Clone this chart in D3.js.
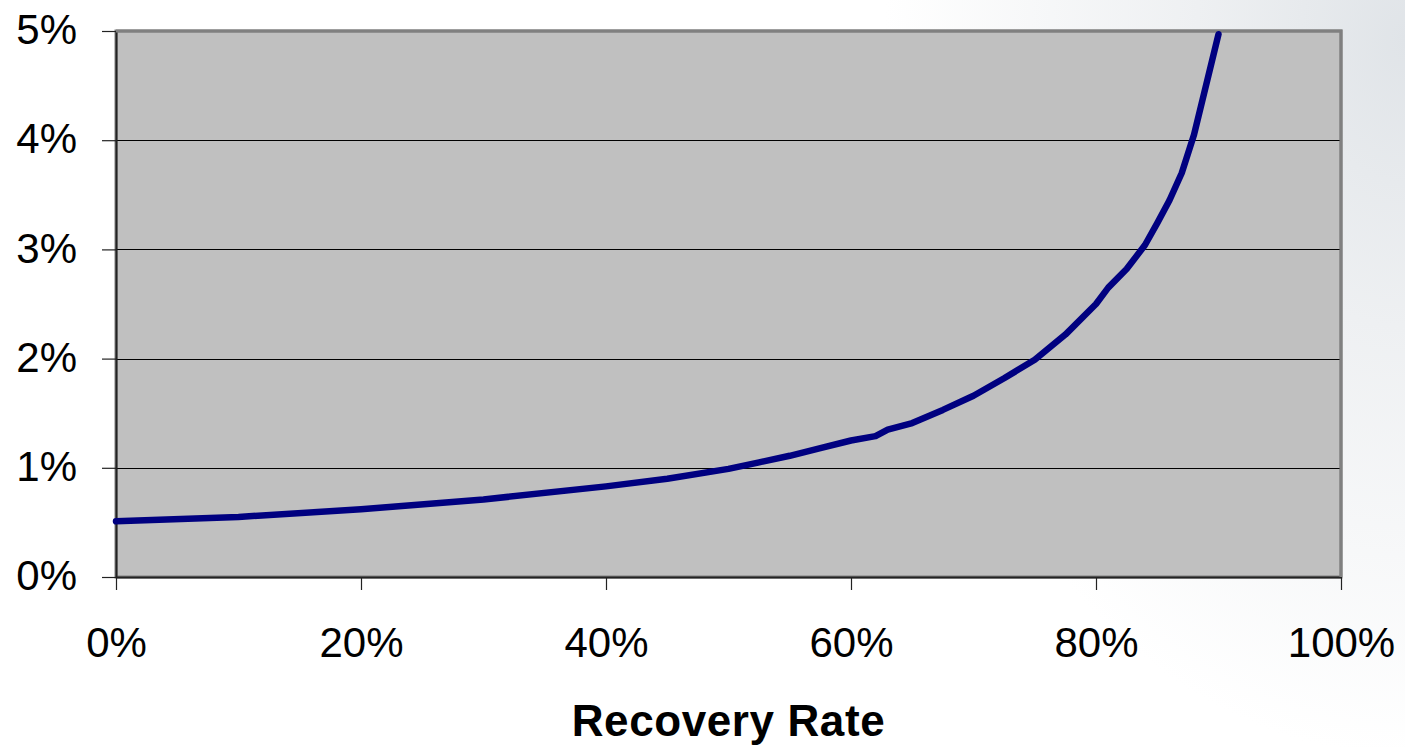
<!DOCTYPE html>
<html>
<head>
<meta charset="utf-8">
<script src="https://cdn.jsdelivr.net/npm/d3@7/dist/d3.min.js"></script>
<style>
  html, body { margin: 0; padding: 0; background: #fff; }
  svg { display: block; }
  text { font-family: "Liberation Sans", Arial, sans-serif; fill: #000; }
</style>
</head>
<body>
<svg id="chart" width="1405" height="747"></svg>
<script>
// Recovery rate (%) on the x axis, spread (%) on the y axis
const recoveryRate = [0, 10, 20, 30, 40, 45, 50, 52.5, 55, 57.5, 60, 62, 63, 65, 67.5, 70,
                      72.5, 75, 77.5, 80, 81, 82.5, 84, 85, 86, 87, 88, 90];
const spread = [0.51, 0.55, 0.62, 0.71, 0.83, 0.90, 0.99, 1.05, 1.11, 1.18, 1.25, 1.29, 1.35,
                1.41, 1.53, 1.66, 1.82, 1.99, 2.22, 2.50, 2.65, 2.82, 3.04, 3.24, 3.45, 3.70,
                4.05, 4.97];
const xTicks = [0, 20, 40, 60, 80, 100];
const yTicks = [0, 1, 2, 3, 4, 5];
const xTitle = "Recovery Rate";

const svg = d3.select("#chart");
const W = 1405, H = 747;
const plot = { left: 116, right: 1341, top: 31, bottom: 577 };

// soft backdrop shading toward the upper right
const defs = svg.append("defs");
const grad = defs.append("radialGradient")
  .attr("id", "bgShade")
  .attr("gradientUnits", "userSpaceOnUse")
  .attr("cx", 1405).attr("cy", 40).attr("r", 650)
  .attr("gradientTransform", "translate(1405,40) scale(0.8,1.1) translate(-1405,-40)");
grad.append("stop").attr("offset", 0).attr("stop-color", "#e0e4e8");
grad.append("stop").attr("offset", 0.4).attr("stop-color", "#eef0f2");
grad.append("stop").attr("offset", 1).attr("stop-color", "#ffffff");
svg.append("rect").attr("width", W).attr("height", H).attr("fill", "url(#bgShade)");

const x = d3.scaleLinear().domain([0, 100]).range([plot.left, plot.right]);
const y = d3.scaleLinear().domain([0, 5]).range([plot.bottom, plot.top]);

// plot area
svg.append("rect")
  .attr("x", plot.left).attr("y", plot.top)
  .attr("width", plot.right - plot.left).attr("height", plot.bottom - plot.top)
  .attr("fill", "#c0c0c0")
  .attr("stroke", "#808080").attr("stroke-width", 3);

// horizontal gridlines
svg.append("g")
  .selectAll("line")
  .data(yTicks.filter(d => d > 0 && d < 5))
  .join("line")
  .attr("x1", plot.left).attr("x2", plot.right)
  .attr("y1", d => Math.round(y(d)) + 0.5).attr("y2", d => Math.round(y(d)) + 0.5)
  .attr("stroke", "#000").attr("stroke-width", 1);

// y axis
const yAxis = d3.axisLeft(y).tickValues(yTicks).tickSize(14).tickSizeOuter(0)
  .tickFormat(d => d + "%");
const gy = svg.append("g").attr("transform", `translate(${plot.left},0)`).call(yAxis);
gy.select(".domain").attr("stroke", "#222").attr("stroke-width", 2);
gy.selectAll(".tick line").attr("stroke", "#222").attr("stroke-width", 1.2);
gy.selectAll(".tick text")
  .attr("x", -39).attr("dy", "0.3em")
  .attr("text-anchor", "end")
  .style("font-size", "42px");

// x axis
const xAxis = d3.axisBottom(x).tickValues(xTicks).tickSize(13).tickSizeOuter(0)
  .tickFormat(d => d + "%");
const gx = svg.append("g").attr("transform", `translate(0,${plot.bottom})`).call(xAxis);
gx.select(".domain").attr("stroke", "#222").attr("stroke-width", 2);
gx.selectAll(".tick line").attr("stroke", "#222").attr("stroke-width", 1.2);
gx.selectAll(".tick text")
  .attr("y", 80).attr("dy", 0)
  .style("font-size", "42px");

// redraw the top/right frame edges over the axes
svg.append("path")
  .attr("d", `M${plot.left},${plot.top}H${plot.right}V${plot.bottom}`)
  .attr("fill", "none").attr("stroke", "#808080").attr("stroke-width", 3);

// spread curve
const line = d3.line()
  .x((d, i) => x(recoveryRate[i]))
  .y(d => y(d));
svg.append("path")
  .datum(spread)
  .attr("d", line)
  .attr("fill", "none")
  .attr("stroke", "#000080")
  .attr("stroke-width", 6.5)
  .attr("stroke-linecap", "round")
  .attr("stroke-linejoin", "round");

// axis title
svg.append("text")
  .attr("x", (plot.left + plot.right) / 2)
  .attr("y", 736)
  .attr("text-anchor", "middle")
  .style("font-size", "44px")
  .style("font-weight", "bold")
  .style("letter-spacing", "0.6px")
  .text(xTitle);
</script>
</body>
</html>
